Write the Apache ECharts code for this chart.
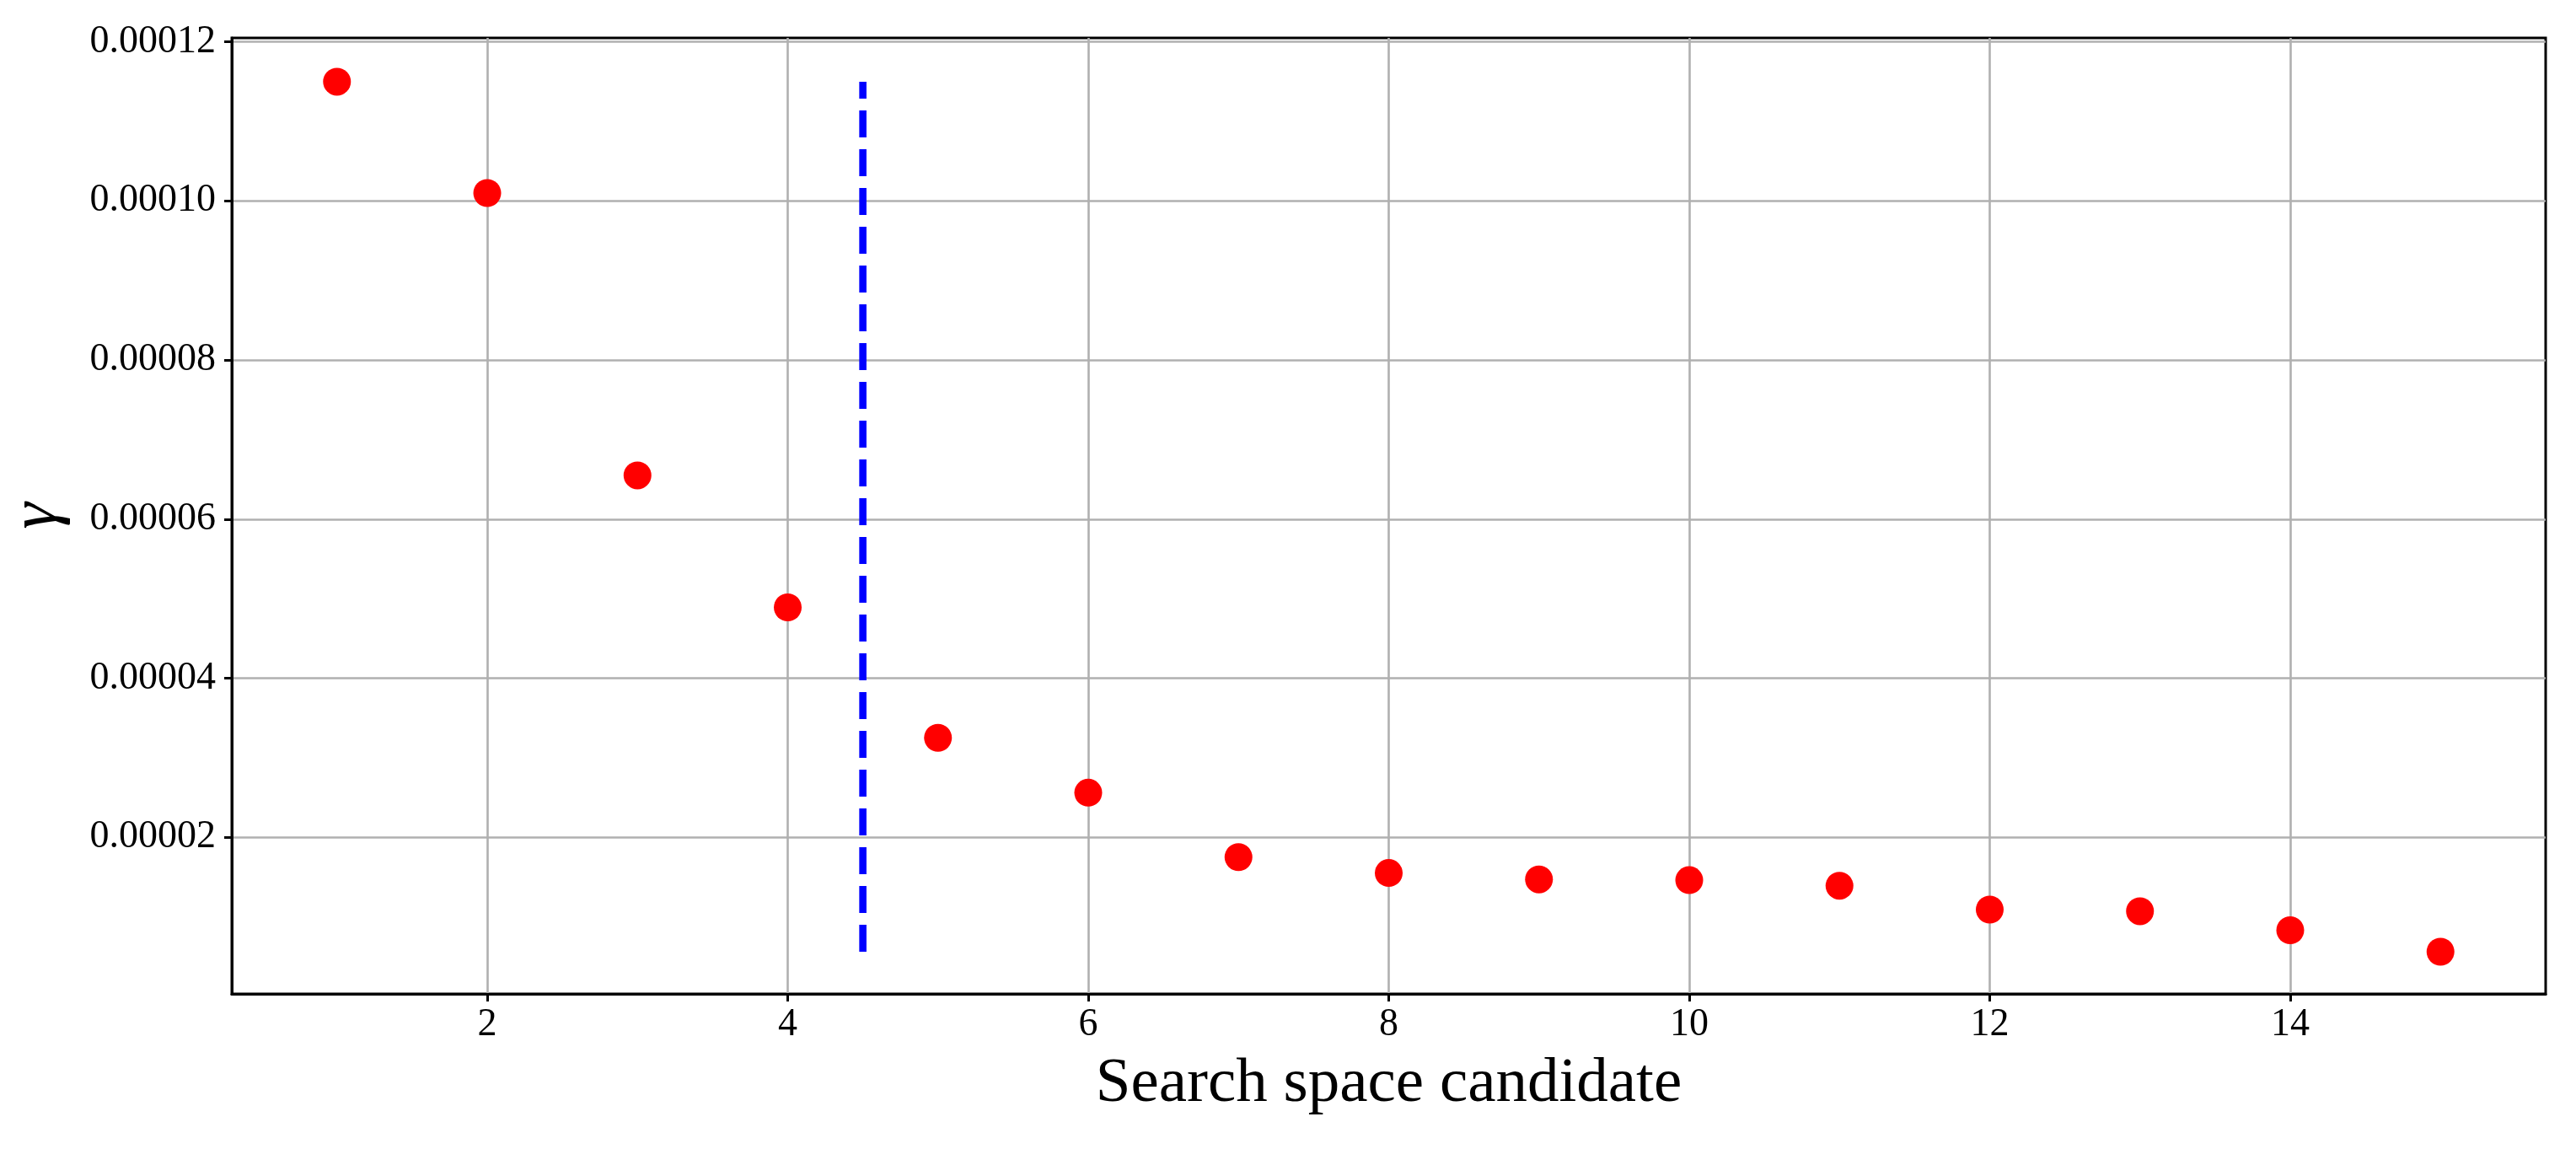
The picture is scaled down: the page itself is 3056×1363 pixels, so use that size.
<!DOCTYPE html>
<html>
<head>
<meta charset="utf-8">
<script src="https://cdn.jsdelivr.net/npm/echarts@6/dist/echarts.min.js"></script>
<style>
html,body{margin:0;padding:0;background:#fff;}
#chart{width:3056px;height:1363px;}
</style>
</head>
<body>
<div id="chart"></div>
<script>
// Data
const candidates = [1,2,3,4,5,6,7,8,9,10,11,12,13,14,15];
const gammaValues = [0.000115, 0.000101, 0.0000655, 0.0000489, 0.0000325, 0.0000256, 0.0000175, 0.0000155, 0.0000147, 0.0000146, 0.0000139, 0.0000109, 0.0000107, 0.0000083, 0.0000056];
const cutoffX = 4.5;
const xTicks = [2,4,6,8,10,12,14];
const yTicks = [0.00002,0.00004,0.00006,0.00008,0.00010,0.00012];
const xLabel = 'Search space candidate';
const yLabel = 'γ';

const pts = candidates.map((c,i)=>[c, gammaValues[i]]);
const gmin = Math.min(...gammaValues), gmax = Math.max(...gammaValues);
const cutoffLine = [[cutoffX, gmin],[cutoffX, gmax]];

const font = 'Liberation Serif';
const chart = echarts.init(document.getElementById('chart'), null, {renderer:'canvas'});
chart.setOption({
  animation:false,
  backgroundColor:'#fff',
  grid:{left:275, right:36, top:45, bottom:184, containLabel:false, outerBoundsMode:'none',
        show:true, borderColor:'#000', borderWidth:3, backgroundColor:'transparent'},
  xAxis:{
    type:'value', min:0.3, max:15.7,
    name:xLabel, nameLocation:'middle', nameGap:70,
    nameTextStyle:{fontFamily:font, fontSize:75, color:'#000'},
    axisLine:{show:true, onZero:false, lineStyle:{color:'#000', width:3}},
    axisTick:{show:true, inside:false, length:9, customValues:xTicks, lineStyle:{color:'#000', width:3}},
    axisLabel:{customValues:xTicks, margin:14, fontFamily:font, fontSize:46, color:'#000', formatter:v=>String(v)},
    splitLine:{show:true, lineStyle:{color:'#b0b0b0', width:2.6}}
  },
  yAxis:{
    type:'value', min:0.0000003, max:0.0001205,
    name:yLabel, nameLocation:'middle', nameGap:190, nameRotate:90,
    nameTextStyle:{fontFamily:font, fontStyle:'italic', fontSize:80, color:'#000'},
    axisLine:{show:true, onZero:false, lineStyle:{color:'#000', width:3}},
    axisTick:{show:true, inside:false, length:9, customValues:yTicks, lineStyle:{color:'#000', width:3}},
    axisLabel:{customValues:yTicks, margin:19, fontFamily:font, fontSize:46, color:'#000', formatter:v=>v.toFixed(5)},
    splitLine:{show:true, lineStyle:{color:'#b0b0b0', width:2.6}}
  },
  series:[
    {type:'line', data:cutoffLine, symbol:'none', silent:true,
     lineStyle:{color:'#0000ff', width:8.6, type:[32,14], cap:'butt'}, z:3},
    {type:'scatter', data:pts, symbol:'circle', symbolSize:33,
     itemStyle:{color:'#ff0000', opacity:1}, z:4}
  ]
});
</script>
</body>
</html>
